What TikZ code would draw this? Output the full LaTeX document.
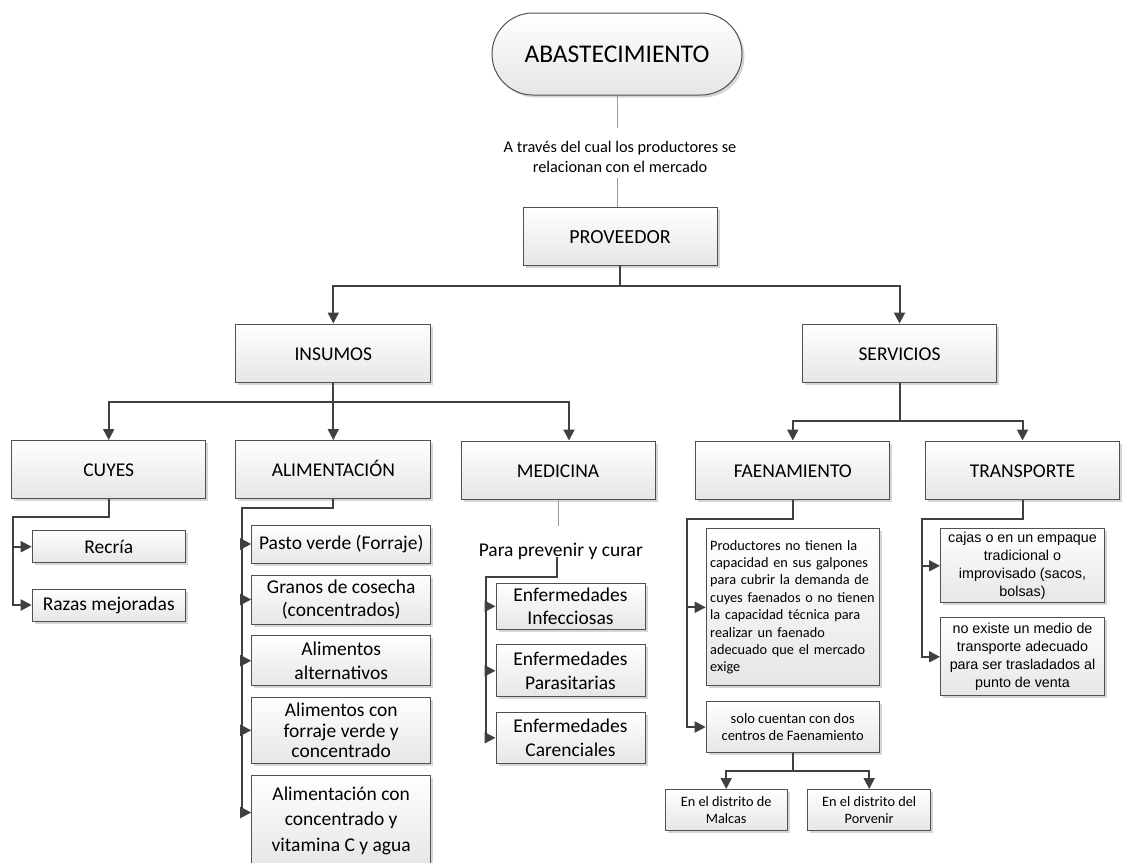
\documentclass[tikz,border=0pt]{standalone}
\usepackage{fontspec}
\setmainfont{Carlito}
\newfontfamily\arialfont{Liberation Sans}
\usetikzlibrary{arrows.meta,shadows,calc}

\definecolor{linedark}{HTML}{404040}
\definecolor{edge}{HTML}{505050}
\definecolor{faintline}{HTML}{9A9A9A}
\definecolor{fillbot}{HTML}{E6E6E6}

\tikzset{
  box/.style={draw=edge, line width=1pt, top color=white, bottom color=fillbot,
    drop shadow={shadow xshift=2.5pt, shadow yshift=-2.5pt, fill=black!16, opacity=1},
    inner sep=0pt, align=center, text=black},
  txtL/.style={font=\fontsize{19.5}{23.5}\selectfont},
  txtS/.style={font=\fontsize{14.3}{17.4}\selectfont},
  mainbox/.style={box, txtL, minimum width=194pt, minimum height=58pt, text height=17pt, text depth=2.5pt},
  conn/.style={draw=linedark, line width=2pt},
  arr/.style={conn, -{Triangle[length=11pt,width=11pt]}},
  faint/.style={draw=faintline, line width=1pt},
}

\begin{document}
\begin{tikzpicture}[x=1pt,y=-1pt]
\useasboundingbox (0,0) rectangle (1123,862);
\fill[white] (0,0) rectangle (1123,862);

% top of the hierarchy
\node[box, rounded corners=41pt, minimum width=250pt, minimum height=82pt,
      font=\fontsize{25.5}{30}\selectfont] (abas) at (617,54) {ABASTECIMIENTO};
\node[align=center, inner sep=0pt, font=\fontsize{16.3}{20}\selectfont] (rel) at (620,157)
  {A través del cual los productores se\\relacionan con el mercado};
\node[mainbox, font=\fontsize{20}{24}\selectfont] (prov) at (620,236) {PROVEEDOR};

% second and third levels
\node[mainbox, minimum width=195pt] (ins) at (333.3,353) {INSUMOS};
\node[mainbox] (ser) at (899.5,353) {SERVICIOS};
\node[mainbox] (cuy) at (108.7,469.5) {CUYES};
\node[mainbox, minimum width=195pt] (ali) at (333.3,469.5) {ALIMENTACIÓN};
\node[mainbox] (med) at (558,470) {MEDICINA};
\node[mainbox] (fae) at (792.8,470) {FAENAMIENTO};
\node[mainbox] (tra) at (1022.5,470) {TRANSPORTE};

% cuyes
\node[box, txtL, minimum width=153pt, minimum height=32pt] (rec) at (108.7,546.7) {Recría};
\node[box, txtL, minimum width=153pt, minimum height=32pt] (raz) at (108.7,605) {Razas mejoradas};

% alimentacion
\node[box, txtL, minimum width=179pt, minimum height=38pt] (a1) at (341.2,544) {Pasto verde (Forraje)};
\node[box, txtL, minimum width=179pt, minimum height=49pt] (a2) at (341.2,599.5) {Granos de cosecha\\(concentrados)};
\node[box, txtL, minimum width=179pt, minimum height=50pt] (a3) at (341.2,660.7) {Alimentos\\alternativos};
\node[box, minimum width=179pt, minimum height=66pt, font=\fontsize{19.5}{20.5}\selectfont] (a4) at (341.2,730.3)
  {Alimentos con\\forraje verde y\\concentrado};
\node[box, minimum width=179pt, minimum height=91pt, font=\fontsize{19.5}{25.5}\selectfont] (a5) at (341.2,820.5)
  {Alimentación con\\concentrado y\\vitamina C y agua};

% medicina
\node[inner sep=0pt, txtL] (pvc) at (560.8,551.7) {Para prevenir y curar};
\node[box, txtL, minimum width=149pt, minimum height=46pt] (e1) at (570.5,606.3) {Enfermedades\\Infecciosas};
\node[box, txtL, minimum width=149pt, minimum height=52pt] (e2) at (570.5,670.8) {Enfermedades\\Parasitarias};
\node[box, txtL, minimum width=149pt, minimum height=51pt] (e3) at (570.5,737.8) {Enfermedades\\Carenciales};

% faenamiento
\node[box, txtS, align=left, text width=165pt, minimum width=173pt, minimum height=157pt] (prod) at (792.7,607.3)
  {Productores no tienen la\\capacidad en sus galpones\\para cubrir la demanda de\\cuyes faenados o no tienen\\la capacidad técnica para\\realizar un faenado\\adecuado que el mercado\\exige};
\node[box, minimum width=173pt, minimum height=51pt, font=\fontsize{14.5}{17.7}\selectfont] (solo) at (792.7,727)
  {solo cuentan con dos\\centros de Faenamiento};
\node[box, minimum width=122pt, minimum height=41pt, font=\fontsize{14.3}{17}\selectfont] (mal) at (726.2,810)
  {En el distrito de\\Malcas};
\node[box, minimum width=123pt, minimum height=41pt, font=\fontsize{14.3}{17}\selectfont] (por) at (869.2,810)
  {En el distrito del\\Porvenir};

% transporte
\node[box, minimum width=164pt, minimum height=74pt, font=\arialfont\fontsize{14.3}{17.7}\selectfont] (caj) at (1022.5,565.8)
  {cajas o en un empaque\\tradicional o\\improvisado (sacos,\\bolsas)};
\node[box, minimum width=164pt, minimum height=78pt, font=\arialfont\fontsize{14.3}{17.7}\selectfont] (noe) at (1022.5,656.8)
  {no existe un medio de\\transporte adecuado\\para ser trasladados al\\punto de venta};

% plain lines around the text labels
\coordinate (t1) at (617,128);
\coordinate (t2) at (617,178);
\draw[faint] (abas.south) -- (t1);
\draw[faint] (t2) -- (t2 |- prov.north);
\coordinate (m1) at (558,525.7);
\draw[faint] (med.south) -- (m1);

% proveedor branches
\coordinate (pbus) at (620,285.7);
\draw[conn] (prov.south) -- (pbus);
\draw[arr] (pbus) -| (ins.north);
\draw[arr] (pbus) -| (ser.north);

% insumos branches
\coordinate (ibus) at (333.3,401.7);
\draw[conn] (ins.south) -- (ibus);
\draw[arr] (ibus) -| (cuy.north);
\draw[arr] (ibus) -- (ali.north);
\draw[arr] (ibus) -| ($(med.north)+(11,0)$);

% servicios branches
\coordinate (sbus) at (899.5,420.7);
\draw[conn] (ser.south) -- (sbus);
\draw[arr] (sbus) -| (fae.north);
\draw[arr] (sbus) -| (tra.north);

% cuyes list
\coordinate (cbus) at (12.7,516.7);
\draw[arr] (cuy.south) |- (cbus) |- (raz.west);
\draw[arr] (cbus |- rec.west) -- (rec.west);

% alimentacion list
\coordinate (abus) at (241.7,507.7);
\coordinate (a5in) at ($(a5.north west)+(0,38)$);
\draw[arr] (ali.south) |- (abus) |- (a5in);
\foreach \n in {a1,a2,a3,a4} \draw[arr] (abus |- \n.west) -- (\n.west);

% medicina list
\coordinate (m2) at (557.3,557);
\coordinate (mbus) at (486,576.7);
\draw[arr] (m2) |- (mbus) |- (e3.west);
\foreach \n in {e1,e2} \draw[arr] (mbus |- \n.west) -- (\n.west);

% faenamiento list
\coordinate (fbus) at (687.3,519.3);
\draw[arr] (fae.south) |- (fbus) |- (solo.west);
\draw[arr] (fbus |- prod.west) -- (prod.west);
\coordinate (sobus) at (792.7,771);
\draw[conn] (solo.south) -- (sobus);
\draw[arr] (sobus) -| (mal.north);
\draw[arr] (sobus) -| (por.north);

% transporte list
\coordinate (tbus) at (922.3,519.3);
\draw[arr] (tra.south) |- (tbus) |- (noe.west);
\draw[arr] (tbus |- caj.west) -- (caj.west);
\end{tikzpicture}
\end{document}
